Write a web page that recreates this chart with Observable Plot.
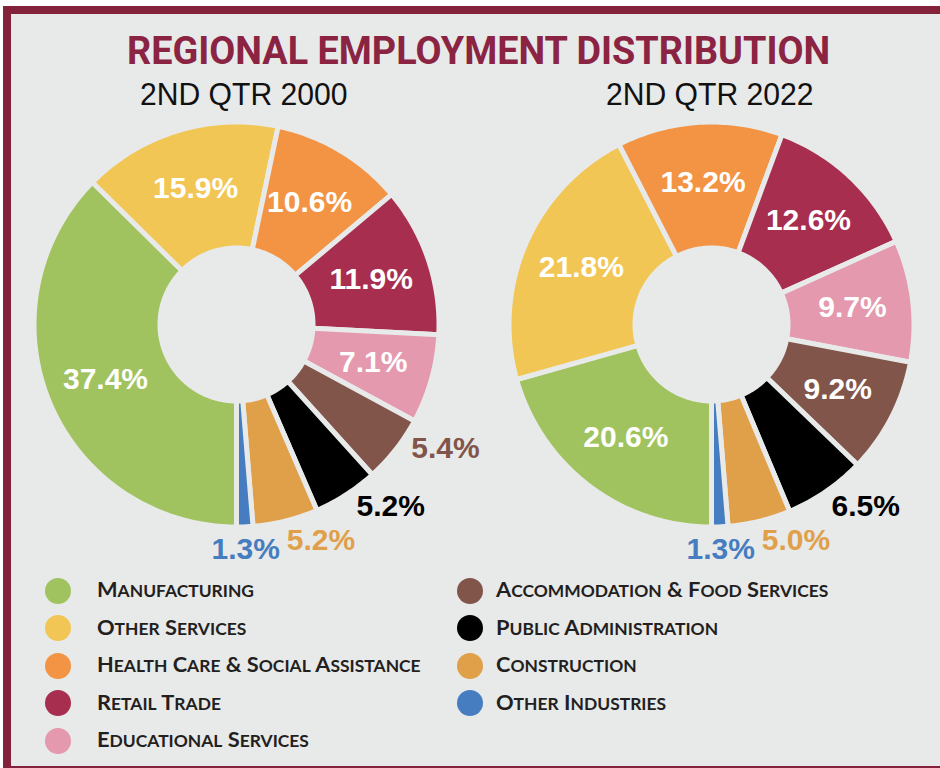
<!DOCTYPE html>
<html><head><meta charset="utf-8">
<script src="https://cdn.jsdelivr.net/npm/d3@7"></script>
<script src="https://cdn.jsdelivr.net/npm/@observablehq/plot@0.6"></script>
<style>
html,body{margin:0;padding:0;background:#fff;}
#page{position:relative;width:940px;height:768px;overflow:hidden;background:#fff;}
#frame{position:absolute;left:3px;top:6px;width:937px;height:762px;background:#84213b;}
#inner{position:absolute;left:11px;top:14px;width:929px;height:752px;background:#e8e9e9;}
.fit{position:absolute;white-space:nowrap;transform-origin:0 0;line-height:1;}
#title{font-family:Roboto,"Liberation Sans",sans-serif;font-weight:700;font-size:38px;color:#8b2342;}
.sub{font-family:"Liberation Sans Narrow","Liberation Sans",sans-serif;font-size:32px;color:#111;}
.chart{position:absolute;}
.leg{position:absolute;font-family:Lato,"Open Sans",sans-serif;font-weight:700;font-size:21px;color:#231f20;line-height:1;white-space:nowrap;transform-origin:0 0;}
.leg .sc{font-size:0.8em;}
.dot{position:absolute;width:26px;height:26px;border-radius:50%;}
</style></head>
<body><div id="page"><div id="frame"></div><div id="inner"></div></div>
<script>
// ---- data ----
const categories = ["Manufacturing","Other Services","Health Care & Social Assistance","Retail Trade","Educational Services","Accommodation & Food Services","Public Administration","Construction","Other Industries"];
const share2000 = [37.4,15.9,10.6,11.9,7.1,5.4,5.2,5.2,1.3];
const share2022 = [20.6,21.8,13.2,12.6,9.7,9.2,6.5,5.0,1.3];
const periods = ["2ND QTR 2000","2ND QTR 2022"];
const chartTitle = "REGIONAL EMPLOYMENT DISTRIBUTION";
const palette = ["#a0c360","#f2c655","#f39445","#a82e4f","#e599ae","#82554a","#000000","#e0a04a","#457dc0"];
const legendColumns = [categories.slice(0,5), categories.slice(5)];

const BG = "#e8e9e9";
const page = document.getElementById("page");

function fitText(el, cx, targetW){
  const w = el.offsetWidth;
  const s = targetW / w;
  el.style.transform = `scaleX(${s})`;
  el.style.left = (cx - targetW/2) + "px";
}

// title
const t = document.createElement("div");
t.id = "title"; t.className = "fit"; t.textContent = chartTitle;
t.style.top = "32px";
page.appendChild(t);
fitText(t, 478.5, 703);

// donuts
function donut(shares, cxL, cyL, W, H){
  const arcs = d3.pie().sort(null).startAngle(Math.PI).endAngle(3*Math.PI)(shares);
  const R0 = 76.5, R1 = 202.5;
  const poly = [];
  arcs.forEach((a,i)=>{
    const cat = categories[i];
    const n = Math.max(2, Math.ceil((a.endAngle-a.startAngle)/(Math.PI/180)));
    const pts = [];
    for(let k=0;k<=n;k++){const th=a.startAngle+(a.endAngle-a.startAngle)*k/n; pts.push({cat,x:R1*Math.sin(th),y:-R1*Math.cos(th)});}
    for(let k=n;k>=0;k--){const th=a.startAngle+(a.endAngle-a.startAngle)*k/n; pts.push({cat,x:R0*Math.sin(th),y:-R0*Math.cos(th)});}
    pts.push({...pts[0]});
    poly.push(...pts);
  });
  const labels = arcs.map((a,i)=>({cat:categories[i], v:shares[i], mid:(a.startAngle+a.endAngle)/2, inside:shares[i]>=7}));
  let prev = Infinity;
  for(let i=labels.length-1;i>=0;i--){const L=labels[i]; if(L.inside) continue; L.ang=Math.min(L.mid, prev-19*Math.PI/180); prev=L.ang;}
  labels.forEach(L=>{const ang=L.inside?L.mid:L.ang; const r=L.inside?142:224+22*Math.sin(ang); L.x=r*Math.sin(ang); L.y=-r*Math.cos(ang);});
  return Plot.plot({
    width:W, height:H, margin:0,
    x:{domain:[-cxL, W-cxL], range:[0,W], axis:null},
    y:{domain:[-cyL, H-cyL], range:[0,H], axis:null},
    color:{domain:categories, range:palette},
    style:{background:"transparent", overflow:"visible"},
    marks:[
      Plot.line(poly,{x:"x",y:"y",z:"cat",fill:"cat",stroke:BG,strokeWidth:5}),
      Plot.text(labels.filter(d=>d.inside),{x:"x",y:"y",text:d=>d.v.toFixed(1)+"%",fill:"white",fontSize:30,fontWeight:"bold",fontFamily:"Liberation Sans, Arial, sans-serif"}),
      Plot.text(labels.filter(d=>!d.inside),{x:"x",y:"y",text:d=>d.v.toFixed(1)+"%",fill:"cat",fontSize:30,fontWeight:"bold",fontFamily:"Liberation Sans, Arial, sans-serif"})
    ]
  });
}
const top0 = 100;
const specs = [
  {shares:share2000, left:0, W:480, cx:236, subCx:244},
  {shares:share2022, left:470, W:470, cx:711, subCx:709.5}
];
specs.forEach((s,i)=>{
  const d = document.createElement("div");
  d.className = "chart";
  d.style.left = s.left+"px"; d.style.top = top0+"px"; d.style.width = s.W+"px";
  d.appendChild(donut(s.shares, s.cx - s.left, 324 - top0, s.W, 480));
  page.appendChild(d);
  const st = document.createElement("div");
  st.className = "fit sub"; st.textContent = periods[i];
  st.style.top = "78px";
  page.appendChild(st);
  fitText(st, s.subCx, 208);
});

// legend
function smallCaps(el, text){
  text.split(" ").forEach((w,wi)=>{
    if(wi>0) el.appendChild(document.createTextNode(" "));
    const a = document.createElement("span"); a.textContent = w[0].toUpperCase(); el.appendChild(a);
    if(w.length>1){const b=document.createElement("span"); b.className="sc"; b.textContent=w.slice(1).toUpperCase(); el.appendChild(b);}
  });
}
const colDot = [57.5, 470], colText = [97, 496];
const row0 = 591, rowStep = 37.4;
const legEls = [];
legendColumns.forEach((col,ci)=>{
  col.forEach((cat,ri)=>{
    const cy = row0 + ri*rowStep;
    const dot = document.createElement("div");
    dot.className = "dot";
    dot.style.left = (colDot[ci]-13)+"px"; dot.style.top = (cy-13)+"px";
    dot.style.background = palette[categories.indexOf(cat)];
    page.appendChild(dot);
    const tx = document.createElement("div");
    tx.className = "leg"; smallCaps(tx, cat);
    tx.style.left = colText[ci]+"px"; tx.style.top = (cy + 6 - 0.887*21)+"px";
    page.appendChild(tx);
    legEls.push({el:tx, cat});
  });
});
const ref = legEls.find(d=>d.cat.startsWith("Health"));
const ls = 324 / ref.el.offsetWidth;
legEls.forEach(d=>d.el.style.transform=`scaleX(${ls})`);
</script>
</body></html>
